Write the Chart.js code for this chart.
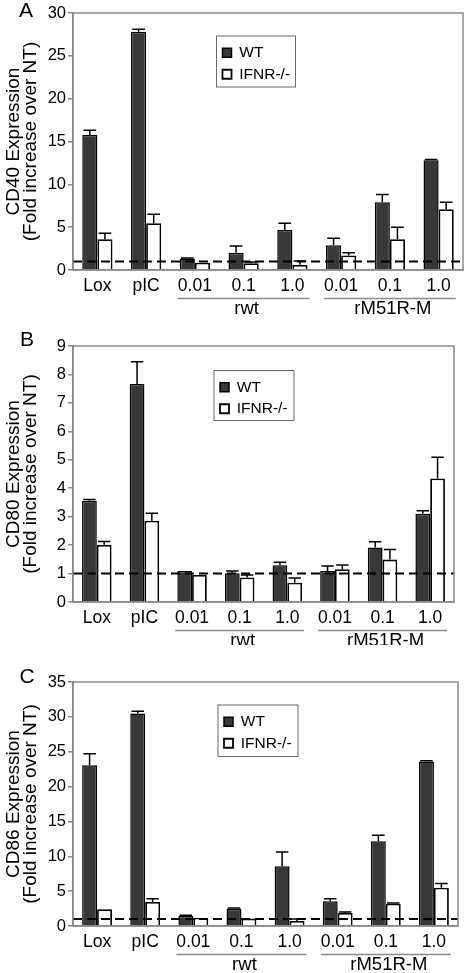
<!DOCTYPE html>
<html><head><meta charset="utf-8">
<script src="https://cdn.jsdelivr.net/npm/chart.js@4"></script>
<style>
html,body{margin:0;padding:0;background:#fff;}
#wrap{position:relative;width:466px;height:973px;overflow:hidden;}
canvas{position:absolute;left:0;}
</style></head><body>
<div id="wrap">
<canvas id="cA" width="466" height="320" style="top:0px"></canvas>
<canvas id="cB" width="466" height="325" style="top:320px"></canvas>
<canvas id="cC" width="466" height="328" style="top:645px"></canvas>
</div>
<script>
// ---------- data ----------
const categories = ['Lox', 'pIC', '0.01', '0.1', '1.0', '0.01', '0.1', '1.0'];
const groupNames = ['rwt', 'rM51R-M'];
const groupStart = [2, 5];
const groupEnd = [4, 7];
const seriesNames = ['WT', 'IFNR-/-'];
const baselineValue = 1;

const cd40WT      = [15.75, 27.8, 1.35, 2.0, 4.67, 2.9, 7.9, 12.8];
const cd40WTErr   = [0.55, 0.3, 0.05, 0.8, 0.8, 0.8, 0.9, 0.1];
const cd40KO      = [3.6, 5.45, 0.85, 0.78, 0.6, 1.7, 3.6, 7.1];
const cd40KOErr   = [0.7, 1.05, 0, 0.15, 0.45, 0.3, 1.4, 0.8];

const cd80WT      = [3.56, 7.66, 1.09, 1.01, 1.29, 1.09, 1.92, 3.1];
const cd80WTErr   = [0.04, 0.79, 0, 0.08, 0.11, 0.18, 0.2, 0.11];
const cd80KO      = [2.01, 2.86, 0.95, 0.86, 0.68, 1.15, 1.49, 4.34];
const cd80KOErr   = [0.12, 0.26, 0, 0.09, 0.16, 0.15, 0.36, 0.75];

const cd86WT      = [23.05, 30.47, 1.44, 2.49, 8.56, 3.54, 12.15, 23.6];
const cd86WTErr   = [1.65, 0.33, 0.1, 0.1, 2.04, 0.36, 0.85, 0.1];
const cd86KO      = [2.4, 3.45, 1.2, 1.06, 0.72, 1.87, 3.2, 5.5];
const cd86KOErr   = [0, 0.45, 0, 0, 0.28, 0.13, 0.1, 0.58];

const panelLetters = ['A', 'B', 'C'];
const yTitles = [
  ['CD40 Expression', '(Fold increase over NT)'],
  ['CD80 Expression', '(Fold increase over NT)'],
  ['CD86 Expression', '(Fold increase over NT)']
];
const yMax = [30, 9, 35];
const yStep = [5, 1, 5];

// ---------- layout / style ----------
const FONT = "'Liberation Sans', Arial, Helvetica, sans-serif";
const AXIS_GRAY = '#8a8a8a';
const layouts = [
  {id: 'cA', h: 320, padTop: 13, padRight: 3, xH: 50, lx: 216.5, ly: 36, lw: 79, lh: 51, letterX: 26, letterY: 11},
  {id: 'cB', h: 325, padTop: 26, padRight: 12, xH: 43, lx: 214, ly: 50.5, lw: 80, lh: 50, letterX: 27, letterY: 20.5},
  {id: 'cC', h: 328, padTop: 37, padRight: 8, xH: 47, lx: 218, ly: 60, lw: 80, lh: 51.5, letterX: 27, letterY: 32}
];
const seriesData = [
  [cd40WT, cd40WTErr, cd40KO, cd40KOErr],
  [cd80WT, cd80WTErr, cd80KO, cd80KOErr],
  [cd86WT, cd86WTErr, cd86KO, cd86KOErr]
];

const extras = {
  id: 'extras',
  afterLayout(chart, args, o) {
    const lg = chart.legend;
    if (lg) {
      lg.left = o.lx; lg.top = o.ly + 3;
      lg.width = o.lw; lg.height = 200;
      lg.right = lg.left + lg.width; lg.bottom = lg.top + lg.height;
    }
  },
  afterDatasetsDraw(chart, args, o) {
    const ctx = chart.ctx, ca = chart.chartArea, ys = chart.scales.y;
    ctx.save();
    ctx.strokeStyle = '#000';
    ctx.lineWidth = 1.5;
    ctx.setLineDash([]);
    chart.data.datasets.forEach((ds, di) => {
      const meta = chart.getDatasetMeta(di);
      meta.data.forEach((bar, i) => {
        const e = ds.errors[i];
        if (!e) return;
        const yt = ys.getPixelForValue(ds.data[i] + e);
        const cw = bar.width * 0.42;
        ctx.beginPath();
        ctx.moveTo(bar.x, bar.y); ctx.lineTo(bar.x, yt);
        ctx.moveTo(bar.x - cw, yt); ctx.lineTo(bar.x + cw, yt);
        ctx.stroke();
      });
    });
    const yb = ys.getPixelForValue(o.baseline);
    ctx.setLineDash([9, 5]);
    ctx.lineWidth = 2;
    ctx.beginPath();
    ctx.moveTo(ca.left, yb); ctx.lineTo(ca.right, yb);
    ctx.stroke();
    ctx.restore();
  },
  afterDraw(chart, args, o) {
    const ctx = chart.ctx, ca = chart.chartArea;
    ctx.save();
    // plot frame
    ctx.strokeStyle = AXIS_GRAY; ctx.lineWidth = 1.5;
    ctx.strokeRect(ca.left, ca.top, ca.right - ca.left, ca.bottom - ca.top);
    // legend frame
    ctx.strokeStyle = '#6a6a6a'; ctx.lineWidth = 1;
    ctx.strokeRect(o.lx, o.ly, o.lw, o.lh);
    // group lines and labels
    const m0 = chart.getDatasetMeta(0), m1 = chart.getDatasetMeta(1);
    ctx.fillStyle = '#000';
    ctx.font = '18.5px ' + FONT;
    ctx.textAlign = 'center'; ctx.textBaseline = 'middle';
    groupNames.forEach((g, k) => {
      const b0 = m0.data[groupStart[k]], b1 = m1.data[groupEnd[k]];
      const x0 = b0.x - b0.width / 2 - 2, x1 = b1.x + b1.width / 2 + 2;
      const yl = ca.bottom + 28.5;
      ctx.strokeStyle = AXIS_GRAY; ctx.lineWidth = 1.5;
      ctx.beginPath(); ctx.moveTo(x0, yl); ctx.lineTo(x1, yl); ctx.stroke();
      ctx.fillText(g, (x0 + x1) / 2 + 3, ca.bottom + 38.5);
    });
    // panel letter
    ctx.font = '21px ' + FONT;
    ctx.fillText(o.letter, o.letterX, o.letterY);
    ctx.restore();
  }
};

layouts.forEach((L, p) => {
  const [wt, wtErr, ko, koErr] = seriesData[p];
  new Chart(document.getElementById(L.id), {
    type: 'bar',
    data: {
      labels: categories,
      datasets: [
        {label: seriesNames[0], data: wt, errors: wtErr, backgroundColor: '#383838', borderColor: '#000',
         borderWidth: 1.5, categoryPercentage: 0.62, barPercentage: 1},
        {label: seriesNames[1], data: ko, errors: koErr, backgroundColor: '#fff', borderColor: '#000',
         borderWidth: 1.8, categoryPercentage: 0.62, barPercentage: 1}
      ]
    },
    options: {
      responsive: false,
      animation: false,
      devicePixelRatio: 1,
      layout: {padding: {top: L.padTop, right: L.padRight, left: 0, bottom: 0}},
      plugins: {
        tooltip: {enabled: false},
        legend: {
          position: 'chartArea', align: 'start',
          labels: {boxWidth: 9, boxHeight: 9, padding: 6, color: '#000',
                   font: {family: FONT, size: 15.5}}
        },
        extras: {baseline: baselineValue, lx: L.lx, ly: L.ly, lw: L.lw, lh: L.lh,
                 letter: panelLetters[p], letterX: L.letterX, letterY: L.letterY}
      },
      scales: {
        x: {
          type: 'category', offset: true,
          grid: {display: false, drawTicks: false},
          border: {display: true, color: AXIS_GRAY, width: 1.5},
          ticks: {color: '#000', font: {family: FONT, size: 17.5}, padding: 5.5, maxRotation: 0, autoSkip: false},
          afterFit(s) { s.height = L.xH; }
        },
        y: {
          min: 0, max: yMax[p],
          ticks: {stepSize: yStep[p], color: '#000', font: {family: FONT, size: 16.5}, padding: 2},
          grid: {drawOnChartArea: false, drawTicks: true, tickLength: 5, color: AXIS_GRAY, lineWidth: 1.5},
          border: {display: true, color: AXIS_GRAY, width: 1.5},
          title: {display: true, text: yTitles[p], color: '#000',
                  font: {family: FONT, size: 19, lineHeight: '17px'}, padding: {top: 5, bottom: 0}},
          afterFit(s) { s.width = 73; }
        }
      }
    },
    plugins: [extras]
  });
});
</script>
</body></html>
